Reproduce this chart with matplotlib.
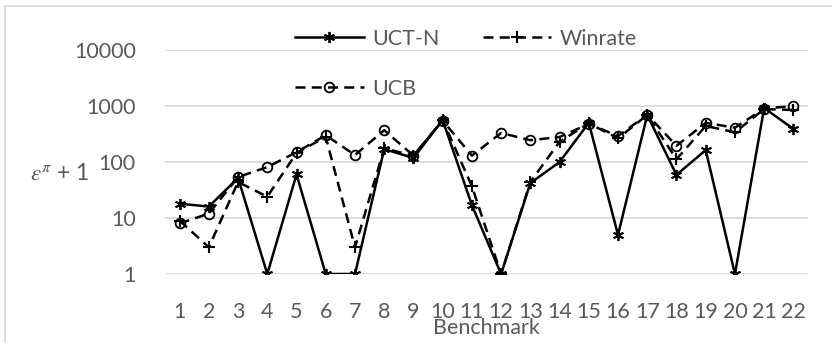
import numpy as np
import matplotlib
matplotlib.use("Agg")
import matplotlib.pyplot as plt
from matplotlib.patches import Rectangle

# benchmark ids and regret (+1) per method
benchmarks = list(range(1, 23))
uct_n = [18, 16, 52, 1, 60, 1, 1, 170, 118, 560, 17, 1, 42, 100, 500, 5, 690, 59, 163, 1, 920, 390]
winrate = [9, 3, 44, 24, 145, 280, 3, 175, 130, 560, 37, 1, 44, 230, 490, 265, 690, 112, 440, 340, 880, 850]
ucb = [8, 12, 54, 81, 150, 300, 133, 370, 130, 550, 130, 330, 245, 280, 480, 290, 700, 195, 500, 410, 900, 1000]

plt.rcParams['font.family'] = ['Lato', 'DejaVu Sans']
plt.rcParams['mathtext.fontset'] = 'stix'
grey = '#595959'

fig = plt.figure(figsize=(8.32, 3.43), dpi=100)
ax = fig.add_axes([165/832, 69/343, 643/832, 224/343])

ax.plot(benchmarks, uct_n, color='black', lw=1.8, marker=(6, 2, 0), ms=8, mew=1.3,
        label='UCT-N')
ax.plot(benchmarks, winrate, color='black', lw=1.8, ls=(0, (4, 2.5)), marker='+', ms=8, mew=1.5,
        label='Winrate')
ax.plot(benchmarks, ucb, color='black', lw=1.8, ls=(0, (4, 2.5)), marker='o', ms=7,
        mfc='none', mew=1.3, label='UCB')

ax.set_yscale('log')
ax.set_ylim(1, 10000)
ax.set_xlim(0.5, 22.5)
ax.set_yticks([1, 10, 100, 1000, 10000])
ax.set_yticklabels(['1', '10', '100', '1000', '10000'])
ax.minorticks_off()
ax.set_xticks(benchmarks)
ax.grid(axis='y', color='#d9d9d9', lw=1.3)
ax.set_axisbelow(True)
for s in ax.spines.values():
    s.set_visible(False)
ax.tick_params(axis='both', length=0, labelsize=15.5, labelcolor=grey)
ax.tick_params(axis='y', pad=21)
ax.tick_params(axis='x', pad=20)

ax.set_xlabel('Benchmark', fontsize=15.5, color=grey, labelpad=-3)
fig.text(30/832, 1 - 174/343, r'$\varepsilon^{\pi}$ + 1', fontsize=16.5, color=grey,
         va='center', ha='left')

# legend laid out row by row: UCT-N, Winrate / UCB
h, l = ax.get_legend_handles_labels()
order = [0, 2, 1]
leg = fig.legend([h[i] for i in order], [l[i] for i in order], ncol=2, frameon=False,
                 loc='upper left', bbox_to_anchor=(286/832, 1 - 20/343),
                 fontsize=15.5, handlelength=3.2, handletextpad=0.4,
                 columnspacing=2.0, labelspacing=1.4, borderaxespad=0)
for t in leg.get_texts():
    t.set_color(grey)

fig.patches.append(Rectangle((5/832, -0.1), 1.2, 1 - 6/343 + 0.1, transform=fig.transFigure,
                             fill=False, ec='#d9d9d9', lw=1.2))

fig.savefig('out.png', dpi=100)
